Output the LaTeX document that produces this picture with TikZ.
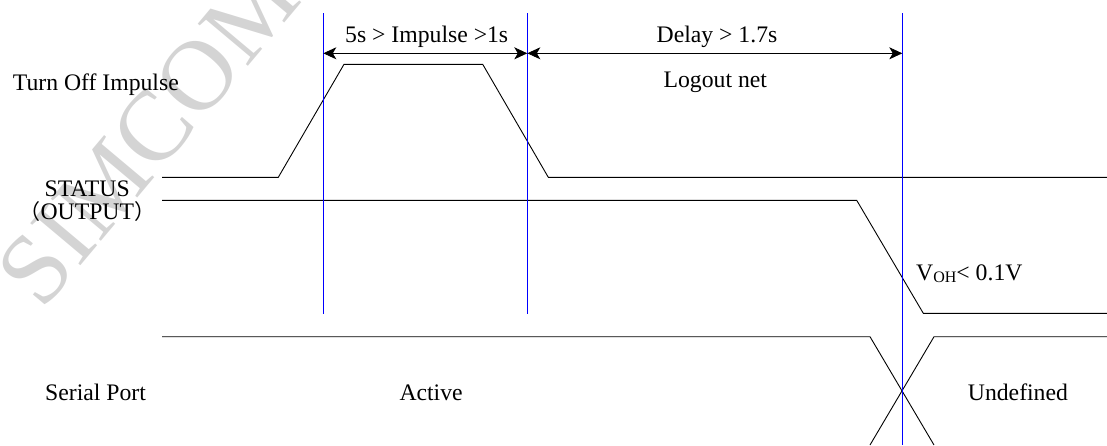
\documentclass[tikz,border=0pt]{standalone}
\usepackage{fontspec}
\setmainfont{Liberation Serif}
\newfontfamily\cjk{Noto Sans CJK SC}
\usetikzlibrary{arrows.meta}
\definecolor{mblue}{RGB}{0,0,255}
\definecolor{wmgray}{RGB}{212,212,212}
\begin{document}
\begin{tikzpicture}[x=1pt,y=-1pt,
  sig/.style={line width=0.9pt,black,line join=miter},
  marker/.style={line width=1.3pt,draw=mblue},
  dim/.style={line width=0.9pt,black,{Stealth[length=13pt,width=12pt,inset=3.5pt]}-{Stealth[length=13pt,width=12pt,inset=3.5pt]}},
  lbl/.style={inner sep=0pt,font=\fontsize{23.7}{28}\selectfont},
  wm/.style={inner sep=0pt,text=wmgray,font=\fontsize{100}{100}\selectfont}
]
\useasboundingbox (0,0) rectangle (1107,445);
% watermark
\node[wm,rotate=50] (wmark) at (148,135) {SIMCOM};
% marker coordinates
\coordinate (m1t) at (323.3,13.3);
\coordinate (m1b) at (323.3,314);
\coordinate (m2t) at (527.3,13.3);
\coordinate (m2b) at (527.3,314);
\coordinate (m3t) at (902.3,13.3);
\coordinate (m3b) at (902.3,445);
\coordinate (a1) at (323.3,53.3);
\coordinate (a2) at (527.3,53.3);
\coordinate (a3) at (902.3,53.3);
% signals
\draw[sig] (162,177.3) -- (278.3,177.3) -- (344,64.3) -- (482.7,64.3) -- (548.3,177.3) -- (1107,177.3);
\draw[sig] (162,200.3) -- (856.7,200.3) -- (923.3,313.3) -- (1107,313.3);
\draw[sig] (162,336.7) -- (870,336.7) -- (934,445);
\draw[sig] (870,445) -- (934,336.7) -- (1107,336.7);
% blue markers
\draw[marker] (m1t) -- (m1b);
\draw[marker] (m2t) -- (m2b);
\draw[marker] (m3t) -- (m3b);
% dimension arrows
\draw[dim] (a1) -- (a2);
\draw[dim] (a2) -- (a3);
% labels
\node[lbl,anchor=base west] (tlbl) at (12.7,90.7) {Turn Off Impulse};
\node[lbl,anchor=base] (slbl) at (87.2,196) {STATUS};
\node[lbl,anchor=base] (olbl) at (87.3,219) {{\cjk\fontsize{21}{21}\selectfont （}OUTPUT{\cjk\fontsize{21}{21}\selectfont ）}};
\node[lbl,anchor=base west] (plbl) at (45,400) {Serial Port};
\node[lbl,anchor=base] (d1) at (426.7,42.3) {5s > Impulse >1s};
\node[lbl,anchor=base] (d2) at (717,42.7) {Delay > 1.7s};
\node[lbl,anchor=base] (d3) at (715.3,87.3) {Logout net};
\node[lbl,anchor=base west] (vlbl) at (916,280) {V\raisebox{-2.3pt}{\fontsize{16}{16}\selectfont OH}<~0.1V};
\node[lbl,anchor=base west] (act) at (399.3,400.7) {Active};
\node[lbl,anchor=base west] (und) at (967.7,400) {Undefined};
\end{tikzpicture}
\end{document}
